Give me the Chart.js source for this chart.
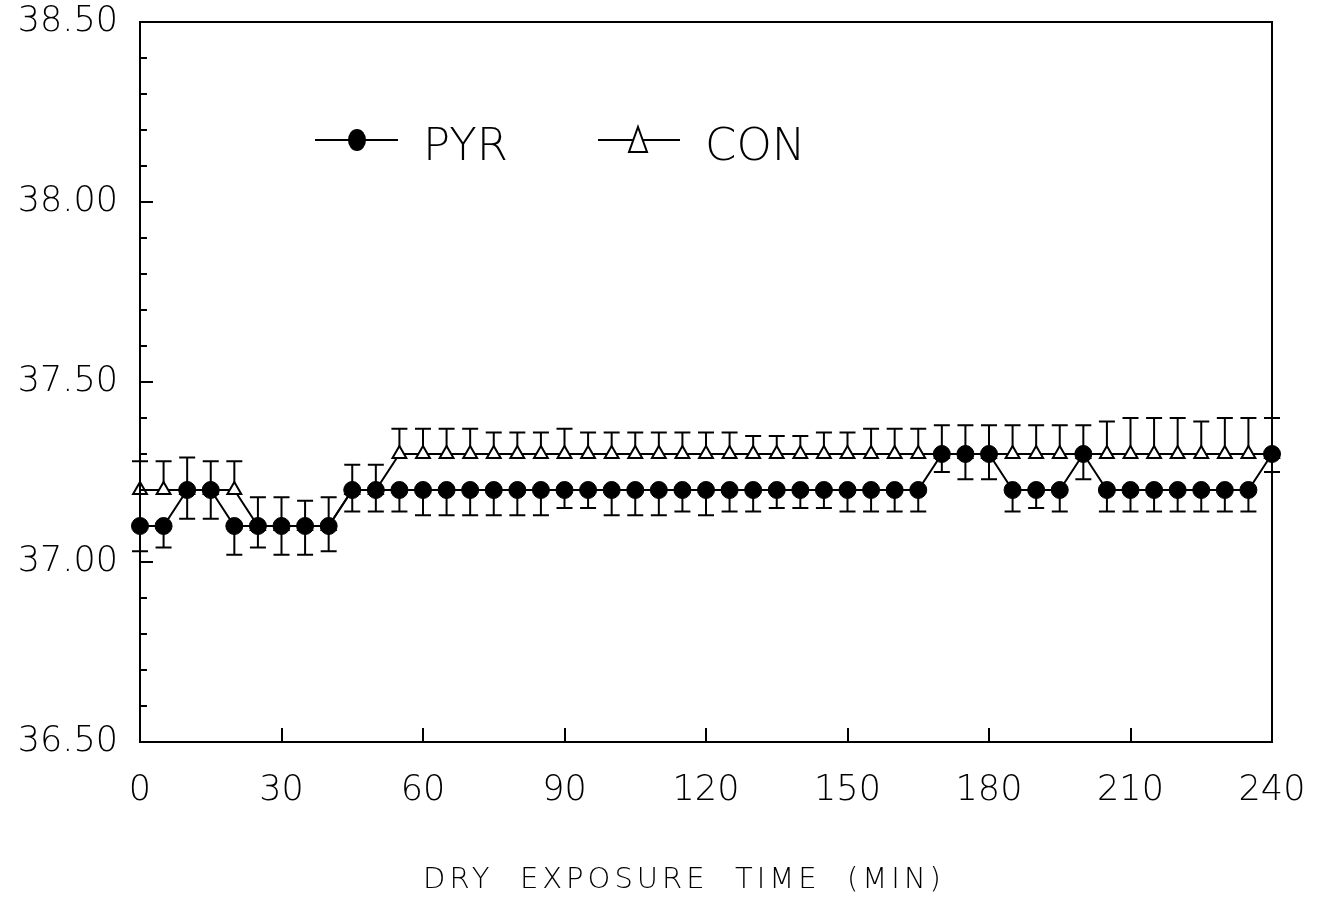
<!DOCTYPE html>
<html>
<head>
<meta charset="utf-8">
<script src="https://cdn.jsdelivr.net/npm/chart.js@4/dist/chart.umd.min.js"></script>
<style>
  html, body { margin: 0; padding: 0; background: #fff; }
  #wrap { width: 1322px; height: 898px; }
</style>
</head>
<body>
<div id="wrap"><canvas id="chart"></canvas></div>
<script>
// exposure time (min)
const times = [0, 5, 10, 15, 20, 25, 30, 35, 40, 45, 50, 55, 60, 65, 70, 75, 80, 85, 90, 95,
  100, 105, 110, 115, 120, 125, 130, 135, 140, 145, 150, 155, 160, 165, 170, 175, 180, 185, 190, 195,
  200, 205, 210, 215, 220, 225, 230, 235, 240];

const pyr = [37.1, 37.1, 37.2, 37.2, 37.1, 37.1, 37.1, 37.1, 37.1, 37.2, 37.2, 37.2, 37.2, 37.2, 37.2, 37.2, 37.2, 37.2, 37.2, 37.2,
  37.2, 37.2, 37.2, 37.2, 37.2, 37.2, 37.2, 37.2, 37.2, 37.2, 37.2, 37.2, 37.2, 37.2, 37.3, 37.3, 37.3, 37.2, 37.2, 37.2,
  37.3, 37.2, 37.2, 37.2, 37.2, 37.2, 37.2, 37.2, 37.3];

const con = [37.2, 37.2, 37.2, 37.2, 37.2, 37.1, 37.1, 37.1, 37.1, 37.2, 37.2, 37.3, 37.3, 37.3, 37.3, 37.3, 37.3, 37.3, 37.3, 37.3,
  37.3, 37.3, 37.3, 37.3, 37.3, 37.3, 37.3, 37.3, 37.3, 37.3, 37.3, 37.3, 37.3, 37.3, 37.3, 37.3, 37.3, 37.3, 37.3, 37.3,
  37.3, 37.3, 37.3, 37.3, 37.3, 37.3, 37.3, 37.3, 37.3];

// error bar ends: PYR drawn downward, CON upward
const pyrLow = [37.03, 37.04, 37.12, 37.12, 37.02, 37.04, 37.02, 37.02, 37.03, 37.14, 37.14, 37.14, 37.13, 37.13, 37.13, 37.13, 37.13, 37.13, 37.15, 37.15,
  37.13, 37.13, 37.13, 37.14, 37.13, 37.14, 37.14, 37.15, 37.15, 37.15, 37.14, 37.14, 37.14, 37.14, 37.25, 37.23, 37.23, 37.14, 37.15, 37.14,
  37.23, 37.14, 37.14, 37.14, 37.14, 37.14, 37.14, 37.14, 37.25];

const conHigh = [37.28, 37.28, 37.29, 37.28, 37.28, 37.18, 37.18, 37.17, 37.18, 37.27, 37.27, 37.37, 37.37, 37.37, 37.37, 37.36, 37.36, 37.36, 37.37, 37.36,
  37.36, 37.36, 37.36, 37.36, 37.36, 37.36, 37.35, 37.35, 37.35, 37.36, 37.36, 37.37, 37.37, 37.37, 37.38, 37.38, 37.38, 37.38, 37.38, 37.38,
  37.38, 37.39, 37.40, 37.40, 37.40, 37.39, 37.40, 37.40, 37.40];

const xTitle = 'DRY  EXPOSURE  TIME  (MIN)';
const yMinorStep = 0.1;
const FONT = '"DejaVu Sans", sans-serif';

// error bars
const errorBars = {
  id: 'errorBars',
  beforeDatasetsDraw(chart) {
    const { ctx, scales: { x, y } } = chart;
    ctx.save();
    ctx.strokeStyle = '#000';
    ctx.lineWidth = 2;
    const cap = 8;
    times.forEach((t, i) => {
      const px = x.getPixelForValue(t);
      [[con[i], conHigh[i]], [pyr[i], pyrLow[i]]].forEach(([from, to]) => {
        const y0 = y.getPixelForValue(from), y1 = y.getPixelForValue(to);
        ctx.beginPath();
        ctx.moveTo(px, y0); ctx.lineTo(px, y1);
        ctx.moveTo(px - cap, y1); ctx.lineTo(px + cap, y1);
        ctx.stroke();
      });
    });
    ctx.restore();
  }
};

// frame, inward ticks, legend and x title
const frame = {
  id: 'frame',
  afterDraw(chart) {
    const { ctx, chartArea: a, scales: { x, y } } = chart;
    ctx.save();
    ctx.strokeStyle = '#000';
    ctx.lineWidth = 2;
    ctx.strokeRect(a.left, a.top, a.right - a.left, a.bottom - a.top);

    ctx.beginPath();
    for (let v = y.min; v <= y.max + 1e-6; v += yMinorStep) {
      const py = Math.round(y.getPixelForValue(v));
      const major = Math.abs(v * 2 - Math.round(v * 2)) < 1e-6;
      ctx.moveTo(a.left, py); ctx.lineTo(a.left + (major ? 13 : 7), py);
    }
    x.ticks.forEach(tk => {
      const px = Math.round(x.getPixelForValue(tk.value));
      ctx.moveTo(px, a.bottom); ctx.lineTo(px, a.bottom - 14);
    });
    ctx.stroke();

    // legend
    ctx.beginPath();
    ctx.moveTo(315, 140); ctx.lineTo(398, 140);
    ctx.moveTo(598, 140); ctx.lineTo(680, 140);
    ctx.stroke();
    ctx.fillStyle = '#000';
    ctx.beginPath();
    ctx.ellipse(357, 140, 9, 11, 0, 0, Math.PI * 2);
    ctx.fill();
    ctx.fillStyle = '#fff';
    ctx.beginPath();
    ctx.moveTo(638, 127); ctx.lineTo(647, 152); ctx.lineTo(629, 152); ctx.closePath();
    ctx.fill(); ctx.stroke();

    ctx.fillStyle = '#000';
    ctx.font = '200 45px ' + FONT;
    ctx.textBaseline = 'alphabetic';
    ctx.fillText('PYR', 423, 160);
    ctx.fillText('CON', 705, 160);

    // x axis title
    ctx.font = '200 29px ' + FONT;
    ctx.letterSpacing = '4px';
    ctx.textAlign = 'center';
    ctx.fillText(xTitle, 684, 888);
    ctx.restore();
  }
};

new Chart(document.getElementById('chart'), {
  type: 'line',
  data: {
    datasets: [
      {
        label: 'PYR',
        data: times.map((t, i) => ({ x: t, y: pyr[i] })),
        borderColor: '#000',
        borderWidth: 2,
        backgroundColor: '#000',
        pointStyle: 'circle',
        pointRadius: 8.5,
        pointBackgroundColor: '#000',
        pointBorderColor: '#000',
        pointBorderWidth: 1,
        tension: 0,
        clip: false,
        order: 0
      },
      {
        label: 'CON',
        data: times.map((t, i) => ({ x: t, y: con[i] })),
        borderColor: '#000',
        borderWidth: 2,
        pointStyle: 'triangle',
        pointRadius: 8,
        pointBackgroundColor: '#fff',
        pointBorderColor: '#000',
        pointBorderWidth: 2,
        tension: 0,
        clip: false,
        order: 1
      }
    ]
  },
  options: {
    responsive: true,
    maintainAspectRatio: false,
    animation: false,
    layout: { padding: { top: 22, right: 50, left: 0, bottom: 0 } },
    plugins: {
      legend: { display: false },
      tooltip: { enabled: false }
    },
    scales: {
      x: {
        type: 'linear',
        min: 0,
        max: 240,
        grid: { display: false, drawTicks: false },
        border: { display: false },
        ticks: {
          stepSize: 30,
          padding: 28,
          color: '#000',
          font: { family: FONT, size: 35, weight: '200' }
        },
        afterFit(scale) {
          scale.height = 156;
          scale.paddingLeft = 0;
          scale.paddingRight = 0;
        }
      },
      y: {
        min: 36.5,
        max: 38.5,
        grid: { display: false, drawTicks: false },
        border: { display: false },
        ticks: {
          stepSize: 0.5,
          padding: 22,
          color: '#000',
          font: { family: FONT, size: 35, weight: '200' },
          callback: v => v.toFixed(2)
        },
        afterFit(scale) {
          scale.width = 140;
          scale.paddingTop = 0;
          scale.paddingBottom = 0;
        }
      }
    }
  },
  plugins: [errorBars, frame]
});
</script>
</body>
</html>
